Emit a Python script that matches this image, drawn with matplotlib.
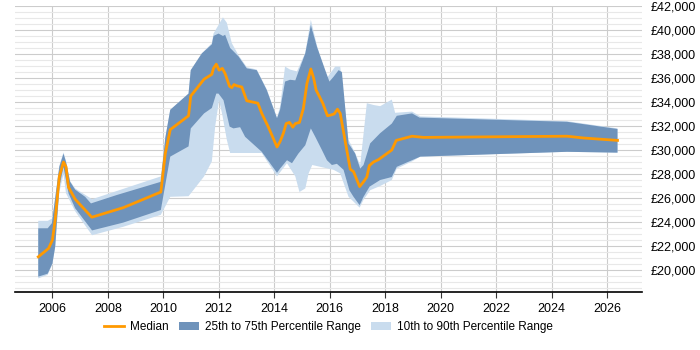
import numpy as np
import matplotlib
matplotlib.use("Agg")
import matplotlib.pyplot as plt
from matplotlib.ticker import FuncFormatter, MultipleLocator

plt.rcParams["font.family"] = ["Liberation Sans", "DejaVu Sans"]

# median salary (year, value)
median_x = [2005.49, 2005.86, 2006.00, 2006.10, 2006.25, 2006.40, 2006.49, 2006.58, 2006.82,
            2007.42, 2008.56, 2009.91, 2010.07, 2010.25, 2010.91, 2010.99, 2011.47, 2011.75,
            2011.81, 2011.91, 2012.01, 2012.13, 2012.23, 2012.39, 2012.47, 2012.55, 2012.65,
            2012.83, 2013.01, 2013.41, 2013.55, 2013.79, 2014.10, 2014.21, 2014.33, 2014.43,
            2014.55, 2014.67, 2014.76, 2014.91, 2015.05, 2015.18, 2015.32, 2015.42, 2015.51,
            2015.75, 2015.92, 2016.02, 2016.16, 2016.28, 2016.38, 2016.74, 2016.86, 2017.08,
            2017.22, 2017.34, 2017.43, 2017.58, 2017.76, 2017.82, 2018.24, 2018.40, 2018.97,
            2019.38, 2024.56, 2025.16, 2026.38]
median_y = [21100, 21800, 22500, 24200, 27800, 29000, 28600, 26900, 25900,
            24400, 25200, 26500, 29700, 31700, 32850, 34500, 35900, 36300,
            36800, 37150, 36650, 36800, 36350, 35300, 35200, 35450, 35350,
            35250, 34100, 33900, 33050, 31900, 30250, 30700, 31400, 32200,
            32300, 31900, 32200, 32300, 33450, 35550, 36750, 36000, 35000,
            33900, 32850, 32900, 33000, 33400, 33050, 28400, 28200, 26950,
            27350, 27750, 28700, 29000, 29200, 29300, 30000, 30800, 31150,
            31050, 31150, 31000, 30800]

# 75th percentile
p75_x = [2005.49, 2005.83, 2005.98, 2006.25, 2006.40, 2006.49, 2006.64, 2006.82, 2007.18,
         2007.39, 2008.32, 2009.91, 2010.07, 2010.25, 2010.91, 2010.99, 2011.39, 2011.75,
         2011.81, 2011.99, 2012.15, 2012.23, 2012.41, 2012.71, 2013.01, 2013.37, 2013.73,
         2014.10, 2014.21, 2014.39, 2014.57, 2014.76, 2014.87, 2015.12, 2015.32, 2015.54,
         2015.84, 2015.99, 2016.14, 2016.32, 2016.44, 2016.68, 2016.92, 2017.10, 2017.22,
         2017.46, 2017.82, 2018.24, 2018.42, 2018.97, 2019.24, 2024.56, 2026.38]
p75_y = [23480, 23480, 23900, 28600, 29700, 29000, 27350, 26700, 26100,
         25550, 26250, 27350, 31000, 33350, 34700, 36650, 38050, 38800,
         39500, 39700, 39500, 39600, 38500, 37800, 36800, 36650, 35000,
         32650, 33350, 35700, 35850, 35800, 36500, 38050, 40400, 38600,
         36650, 35700, 36100, 36650, 36500, 30550, 29700, 28450, 28750,
         30550, 31400, 32200, 32850, 33050, 32700, 32350, 31750]

# 25th percentile
p25_x = [2005.49, 2005.83, 2006.00, 2006.10, 2006.25, 2006.40, 2006.49, 2006.58, 2006.82,
         2007.43, 2008.55, 2009.91, 2010.25, 2010.91, 2010.99, 2011.47, 2011.75, 2011.91,
         2011.99, 2012.17, 2012.39, 2012.53, 2012.77, 2012.95, 2013.55, 2014.10, 2014.21,
         2014.46, 2014.64, 2014.87, 2015.12, 2015.32, 2015.48, 2015.72, 2015.90, 2016.08,
         2016.26, 2016.50, 2016.71, 2016.86, 2017.08, 2017.22, 2017.44, 2017.82, 2018.24,
         2018.42, 2018.97, 2019.27, 2024.56, 2026.38]
p25_y = [19450, 19700, 20550, 21950, 26950, 28600, 27500, 26400, 25150,
         23300, 23950, 25000, 29450, 30300, 31800, 33050, 33500, 34700,
         34700, 34150, 31950, 31800, 31900, 31100, 29850, 28100, 28450,
         29150, 28900, 29700, 30400, 31800, 31100, 30000, 29150, 28750,
         28850, 28350, 26650, 26100, 25400, 26100, 26950, 27500, 27750,
         28600, 29150, 29450, 29850, 29780]

# 90th percentile
p90_x = [2005.49, 2005.83, 2006.00, 2006.25, 2006.40, 2006.49, 2006.64, 2006.82, 2007.43,
         2009.91, 2010.07, 2010.25, 2010.91, 2010.99, 2011.39, 2011.75, 2011.81, 2012.15,
         2012.29, 2012.47, 2012.71, 2013.01, 2013.37, 2013.73, 2014.10, 2014.21, 2014.39,
         2014.57, 2014.82, 2015.12, 2015.32, 2015.54, 2015.90, 2016.20, 2016.38, 2016.68,
         2016.92, 2017.10, 2017.34, 2017.58, 2017.82, 2018.24, 2018.36, 2018.97, 2019.27,
         2024.56, 2026.38]
p90_y = [24100, 24100, 24300, 28700, 29800, 29100, 27400, 26800, 25900,
         27800, 31000, 33350, 34700, 36650, 38050, 38900, 39700, 41050,
         40600, 38900, 37900, 36900, 36700, 35050, 32700, 33600, 36950,
         36700, 36550, 38100, 40850, 38700, 36000, 36950, 36950, 30850,
         29750, 28750, 33900, 33750, 33650, 34200, 33100, 33200, 32800,
         32400, 31800]

# 10th percentile
p10_x = [2005.49, 2005.83, 2006.00, 2006.10, 2006.25, 2006.40, 2006.49, 2006.82, 2007.43,
         2008.55, 2009.91, 2010.07, 2010.25, 2010.91, 2011.47, 2011.75, 2011.87, 2012.01,
         2012.13, 2012.29, 2012.41, 2012.89, 2013.55, 2014.10, 2014.46, 2014.76, 2014.91,
         2015.12, 2015.24, 2015.37, 2015.66, 2016.14, 2016.38, 2016.68, 2016.86, 2017.08,
         2017.22, 2017.46, 2017.82, 2018.24, 2018.42, 2018.97, 2019.27, 2024.56, 2026.38]
p10_y = [19300, 19600, 20500, 21900, 26500, 28000, 26400, 24900, 22900,
         23600, 24600, 25300, 26100, 26150, 27800, 29050, 31950, 34150,
         32900, 30850, 29750, 29750, 29750, 27800, 28900, 27800, 26500,
         26800, 28050, 28750, 28600, 28350, 28050, 26100, 25700, 25200,
         25850, 26650, 27000, 27500, 28450, 29050, 29450, 29850, 29780]

year_ticks = list(range(2006, 2027, 2))

fig = plt.figure(figsize=(7, 3.5), dpi=100)
ax = fig.add_axes([0.0214, 0.165, 0.896, 0.818])

# bandas como poligonos (borde superior + borde inferior al reves)
ax.fill(np.concatenate([p90_x, p10_x[::-1]]), np.concatenate([p90_y, p10_y[::-1]]),
        color="#c9dcee", lw=0, label="10th to 90th Percentile Range", zorder=2)
ax.fill(np.concatenate([p75_x, p25_x[::-1]]), np.concatenate([p75_y, p25_y[::-1]]),
        color="#6f93bb", lw=0, label="25th to 75th Percentile Range", zorder=3)
ax.plot(median_x, median_y, color="#ff9900", lw=2, label="Median", zorder=4)

ax.set_xlim(2004.65, 2027.27)
ax.set_ylim(18150, 42000)
ax.set_xticks(year_ticks)
ax.yaxis.set_major_locator(MultipleLocator(2000))
ax.yaxis.set_minor_locator(MultipleLocator(500))
ax.yaxis.tick_right()
ax.yaxis.set_major_formatter(FuncFormatter(lambda v, p: "£{:,.0f}".format(v)))
ax.tick_params(axis="y", which="both", length=0, labelsize=9, pad=6)
ax.tick_params(axis="x", length=4, labelsize=9, color="#333333")

ax.grid(which="major", axis="both", color="#cccccc", lw=0.8, zorder=0)
ax.grid(which="minor", axis="y", color="#e8e8e8", lw=0.8, zorder=0)
ax.set_axisbelow(True)
for s in ["top", "left", "right"]:
    ax.spines[s].set_visible(False)
ax.spines["bottom"].set_color("black")
ax.spines["bottom"].set_linewidth(1.2)

h, l = ax.get_legend_handles_labels()
order = [2, 1, 0]
ax.legend([h[i] for i in order], [l[i] for i in order], loc="upper center",
          bbox_to_anchor=(0.5, -0.065), ncol=3, frameon=False, fontsize=8.5,
          handlelength=1.7, columnspacing=0.85, handletextpad=0.5)

fig.savefig("out.png", dpi=100)
